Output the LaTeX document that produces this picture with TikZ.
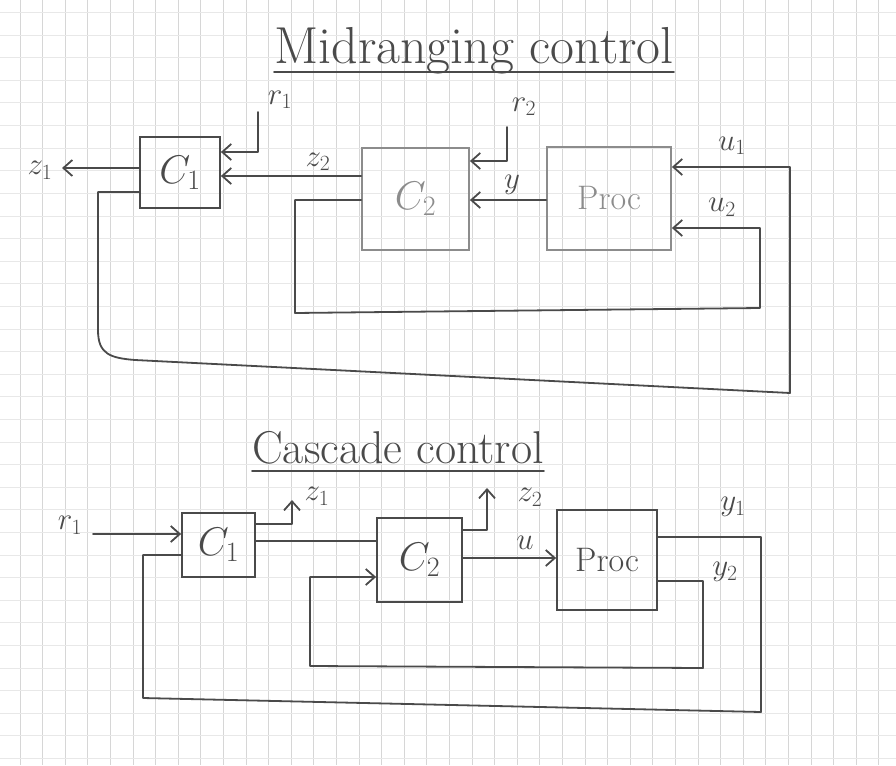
\RequirePackage{fix-cm}
\documentclass[tikz,border=0pt]{standalone}
\usetikzlibrary{arrows.meta}
\definecolor{ink}{HTML}{4A4A4A}
\definecolor{pencil}{HTML}{8C8C8C}
\definecolor{gridv}{HTML}{D6D6D6}
\definecolor{gridh}{HTML}{E8E8E8}
\begin{document}
\begin{tikzpicture}[x=1pt,y=-1pt,
  wire/.style={draw=ink,line width=1.8pt,line join=round,line cap=round},
  arr/.style={wire,-{Straight Barb[length=9pt,width=16pt,line width=1.8pt]}},
  blk/.style={draw=ink,line width=1.8pt,rectangle,inner sep=0pt,text=ink,font=\fontsize{40}{42}\selectfont},
  pblk/.style={blk,draw=pencil,text=pencil},
  lbl/.style={text=ink,font=\fontsize{31}{33}\selectfont,inner sep=0pt},
  ttl/.style={text=ink,font=\fontsize{52}{56}\selectfont,inner sep=0pt}]
\useasboundingbox (0,0) rectangle (896,765);
\fill[white] (0,0) rectangle (896,765);
% grid paper
\foreach \i in {0,...,38} \draw[gridv,line width=1pt] ({20+22.6*\i},0) -- ++(0,765);
\foreach \j in {0,...,33} \draw[gridh,line width=1pt] (0,{12.6+22.6*\j}) -- ++(896,0);

% ---------------- Midranging control ----------------
\node[ttl,anchor=base] (t1) at (474,64) {Midranging control};
\draw[wire] ([yshift=-8pt]t1.base west) -- ([yshift=-8pt]t1.base east);

\node[blk,minimum width=80pt,minimum height=71pt] (C1t) at (180,172.5) {$C_1$};
\node[pblk,minimum width=107pt,minimum height=102pt] (C2t) at (415.5,199) {$C_2$};
\node[pblk,font=\fontsize{34}{36}\selectfont,minimum width=124pt,minimum height=103pt] (Pt) at (609,198.5) {Proc};

\coordinate (z1e) at (62,168);
\draw[arr] (C1t.west |- z1e) -- (z1e);
\node[lbl] (lz1) at (40,170) {$z_1$};

\coordinate (r1s) at (258,112);
\draw[arr] (r1s) |- (C1t.east |- 0,152);
\node[lbl] (lr1) at (280,100) {$r_1$};

\draw[arr] (C2t.west |- 0,176) -- (C1t.east |- 0,176);
\node[lbl] (lz2) at (318,162) {$z_2$};

\draw[arr] (C1t.west |- 0,192) -- (98,192) -- (98,330)
  .. controls (98,354) and (110,358) .. (135,360) -- (790,393) -- (790,167) -- (Pt.east |- 0,167);
\node[lbl] (lu1) at (732,146) {$u_1$};

\coordinate (r2s) at (507,127);
\draw[arr] (r2s) |- (C2t.east |- 0,161);
\node[lbl] (lr2) at (524,107) {$r_2$};

\draw[arr] (Pt.west |- 0,200) -- (C2t.east |- 0,200);
\node[lbl] (ly) at (512,185) {$y$};

\draw[arr] (C2t.west |- 0,200) -- (295,200) -- (295,313) -- (760,308) -- (760,228) -- (Pt.east |- 0,228);
\node[lbl] (lu2) at (722,207) {$u_2$};

% ---------------- Cascade control ----------------
\node[ttl,font=\fontsize{46}{50}\selectfont,anchor=base] (t2) at (398,463) {Cascade control};
\draw[wire] ([yshift=-8pt]t2.base west) -- ([yshift=-8pt]t2.base east);

\node[blk,minimum width=73pt,minimum height=64pt] (C1b) at (218.5,545) {$C_1$};
\node[blk,minimum width=85pt,minimum height=84pt] (C2b) at (419.5,560) {$C_2$};
\node[blk,font=\fontsize{34}{36}\selectfont,minimum width=100pt,minimum height=100pt] (Pb) at (607,560) {Proc};

\coordinate (r1in) at (93,534);
\draw[arr] (r1in) -- (C1b.west |- r1in);
\node[lbl] (br1) at (70,525) {$r_1$};

\coordinate (z1up) at (292,500);
\draw[arr] (C1b.east |- 0,524) -| (z1up);
\node[lbl] (bz1) at (317,496) {$z_1$};

\draw[wire] (C1b.east |- 0,541) -- (C2b.west |- 0,541);

\coordinate (z2up) at (487,488);
\draw[arr] (C2b.east |- 0,530) -| (z2up);
\node[lbl] (bz2) at (530,497) {$z_2$};

\draw[arr] (C2b.east |- 0,558) -- (Pb.west |- 0,558);
\node[lbl] (bu) at (525,543) {$u$};

\draw[wire] (Pb.east |- 0,537) -- (761,537) -- (761,712) -- (143,698) -- (143,555) -- (C1b.west |- 0,555);
\node[lbl] (by1) at (733,507) {$y_1$};

\draw[arr] (Pb.east |- 0,581) -- (703,581) -- (703,668) -- (310,666) -- (310,577) -- (C2b.west |- 0,577);
\node[lbl] (by2) at (725,572) {$y_2$};
\end{tikzpicture}
\end{document}
